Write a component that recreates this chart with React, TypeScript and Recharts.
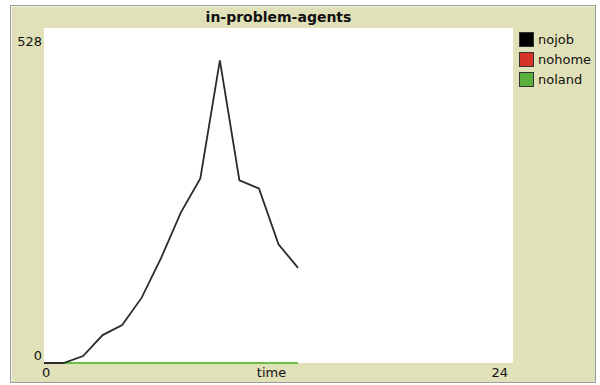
import React from "react";
import { CartesianGrid, Line, LineChart, XAxis, YAxis } from "recharts";

const time = [0, 1, 2, 3, 4, 5, 6, 7, 8, 9, 10, 11, 12, 13];
const nojob = [0, 0, 11, 44, 60, 103, 166, 237, 291, 477, 288, 275, 187, 150];
const nohome = [0, 0, 0, 0, 0, 0, 0, 0, 0, 0, 0, 0, 0, 0];
const noland = [0, 0, 0, 0, 0, 0, 0, 0, 0, 0, 0, 0, 0, 0];

const xTicks = [0, 24];
const yTicks = [0, 528];

const seriesNames = ["nojob", "nohome", "noland"];
const seriesColors = ["#000000", "#D73229", "#59B03C"];

const FONT = "'DejaVu Sans', sans-serif";
const BEIGE = "#E1E1B9";
const INK = "#111";

const chartData = time.map((t, i) => ({
  time: t,
  nojob: nojob[i],
  nohome: nohome[i],
  noland: noland[i],
}));

const YTick = (props: any) => {
  const { x, y, payload } = props;
  const top = payload.value !== 0;
  return (
    <text
      x={x}
      y={y + (top ? 18 : -3)}
      textAnchor="end"
      fontFamily={FONT}
      fontSize={13}
      fill={INK}
    >
      {payload.value}
    </text>
  );
};

const XTick = (props: any) => {
  const { x, y, payload } = props;
  const first = payload.value === 0;
  return (
    <text
      x={first ? x - 2 : x - 5}
      y={y + 14}
      textAnchor={first ? "start" : "end"}
      fontFamily={FONT}
      fontSize={13}
      fill={INK}
    >
      {payload.value}
    </text>
  );
};

export default function App() {
  return (
    <div
      style={{
        position: "absolute",
        left: 0,
        top: 0,
        width: 600,
        height: 385,
        background: "#fff",
        overflow: "hidden",
      }}
    >
      {/* widget frame */}
      <div
        style={{
          position: "absolute",
          left: 10,
          top: 5,
          width: 584,
          height: 376,
          background: BEIGE,
          border: "1px solid #9c9c9c",
          boxShadow: "inset 1px 1px 0 #f4f4e4",
        }}
      />
      <div
        style={{
          position: "absolute",
          left: 44,
          width: 469,
          top: 9,
          textAlign: "center",
          fontFamily: FONT,
          fontWeight: "bold",
          fontSize: 14,
          color: INK,
          lineHeight: "17px",
        }}
      >
        in-problem-agents
      </div>
      <div style={{ position: "absolute", left: 0, top: 0 }}>
        <LineChart
          width={600}
          height={385}
          data={chartData}
          margin={{ top: 28, right: 87, bottom: 0, left: 0 }}
        >
          <CartesianGrid horizontal={false} vertical={false} fill="#ffffff" stroke="none" />
          <XAxis
            dataKey="time"
            type="number"
            domain={[0, 24]}
            ticks={xTicks}
            axisLine={false}
            tickLine={false}
            tickSize={0}
            tickMargin={0}
            height={22}
            tick={<XTick />}
            label={{
              content: (p: any) => (
                <text
                  x={p.viewBox.x + p.viewBox.width / 2 - 7}
                  y={p.viewBox.y + 14}
                  textAnchor="middle"
                  fontFamily={FONT}
                  fontSize={13}
                  fill={INK}
                >
                  time
                </text>
              ),
            }}
          />
          <YAxis
            type="number"
            domain={[0, 528]}
            ticks={yTicks}
            axisLine={false}
            tickLine={false}
            tickSize={0}
            tickMargin={2}
            width={44}
            tick={<YTick />}
          />
          <Line
            dataKey="nohome"
            stroke={seriesColors[1]}
            strokeWidth={2}
            dot={false}
            type="linear"
            isAnimationActive={false}
          />
          <Line
            dataKey="noland"
            stroke="#6cc04a"
            strokeWidth={2}
            dot={false}
            type="linear"
            isAnimationActive={false}
          />
          <Line
            dataKey="nojob"
            stroke="#2b2b2b"
            strokeWidth={1.8}
            dot={false}
            type="linear"
            isAnimationActive={false}
          />
        </LineChart>
      </div>
      {/* legend */}
      <div style={{ position: "absolute", left: 519, top: 31 }}>
        {seriesNames.map((name, i) => (
          <div
            key={name}
            style={{ display: "flex", alignItems: "center", height: 20, marginTop: i === 0 ? -2 : 0 }}
          >
            <div
              style={{
                width: 15,
                height: 15,
                background: seriesColors[i],
                border: "1px solid #333",
                boxSizing: "border-box",
                marginRight: 4,
              }}
            />
            <span style={{ fontFamily: FONT, fontSize: 13, color: INK }}>{name}</span>
          </div>
        ))}
      </div>
    </div>
  );
}
